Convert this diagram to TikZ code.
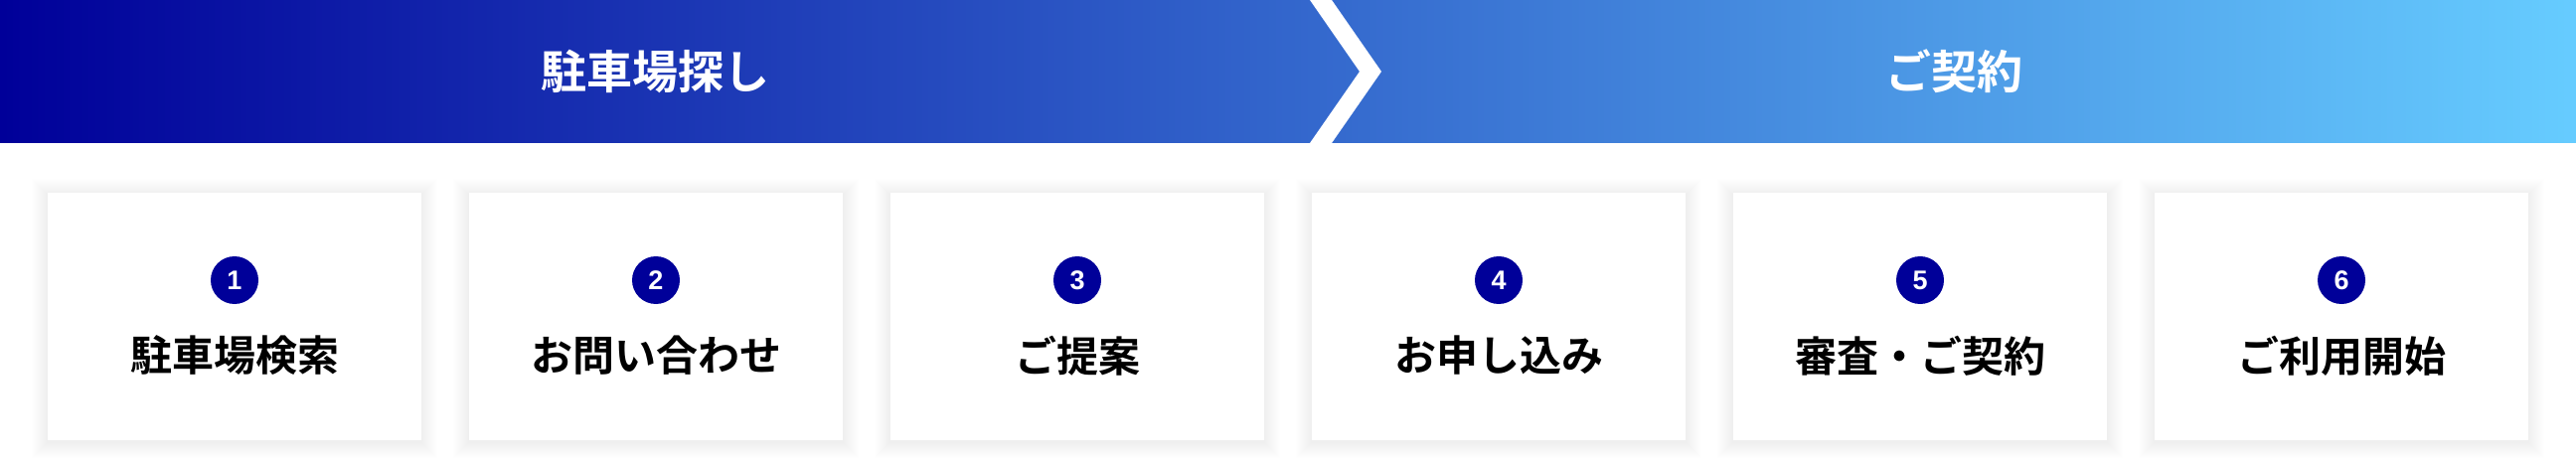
\documentclass[tikz,border=0pt]{standalone}
\usepackage{fontspec}
\newfontfamily\jpbold{Noto Sans CJK JP Bold}
\newfontfamily\numfont{Liberation Sans}
\usepackage{tikz}
\usetikzlibrary{positioning,backgrounds}

\definecolor{navy}{RGB}{0,0,153}
\definecolor{sky}{RGB}{102,204,255}

\begin{document}
\begin{tikzpicture}[x=1pt,y=1pt,node distance=48pt,
    card/.style={fill=white,minimum width=376pt,minimum height=249pt,inner sep=0pt,outer sep=0pt},
    cardshadow/.style={fill=black,opacity=0.005},
    stepnum/.style={circle,fill=navy,minimum size=48pt,inner sep=0pt,text=white,
        font=\numfont\bfseries\fontsize{27pt}{27pt}\selectfont},
    steplabel/.style={font=\jpbold\fontsize{42pt}{42pt}\selectfont},
    phase/.style={text=white,font=\jpbold\fontsize{46pt}{46pt}\selectfont}]
    \useasboundingbox (0,0) rectangle (2592,464);

    % banner
    \shade[left color=navy,right color=sky] (0,320) rectangle (2592,464);
    \fill[white] (1318,464) -- (1340,464) -- (1390,392) -- (1340,320) -- (1318,320) -- (1368,392) -- cycle;
    \node[phase] (p1) at (659,392) {駐車場探し};
    \node[phase] (p2) at (1966,392) {ご契約};

    % cards
    \node[card] (c1) at (236,145.5) {};
    \node[card,right=of c1] (c2) {};
    \node[card,right=of c2] (c3) {};
    \node[card,right=of c3] (c4) {};
    \node[card,right=of c4] (c5) {};
    \node[card,right=of c5] (c6) {};

    \node[stepnum] (n1) at ([yshift=36.5pt]c1.center) {1};
    \node[stepnum] (n2) at ([yshift=36.5pt]c2.center) {2};
    \node[stepnum] (n3) at ([yshift=36.5pt]c3.center) {3};
    \node[stepnum] (n4) at ([yshift=36.5pt]c4.center) {4};
    \node[stepnum] (n5) at ([yshift=36.5pt]c5.center) {5};
    \node[stepnum] (n6) at ([yshift=36.5pt]c6.center) {6};

    \node[steplabel] (t1) at ([yshift=-39.5pt]c1.center) {駐車場検索};
    \node[steplabel] (t2) at ([yshift=-39.5pt]c2.center) {お問い合わせ};
    \node[steplabel] (t3) at ([yshift=-39.5pt]c3.center) {ご提案};
    \node[steplabel] (t4) at ([yshift=-39.5pt]c4.center) {お申し込み};
    \node[steplabel] (t5) at ([yshift=-39.5pt]c5.center) {審査・ご契約};
    \node[steplabel] (t6) at ([yshift=-39.5pt]c6.center) {ご利用開始};

    \begin{pgfonlayer}{background}
        \fill[white] (0,0) rectangle (2592,464);
        % soft shadow round each card
        \foreach \i in {1,...,6}
            \foreach \r in {1,...,16}
                \fill[cardshadow] ([shift={(-\r,-\r-2)}]c\i.south west) rectangle ([shift={(\r,\r-2)}]c\i.north east);
    \end{pgfonlayer}
\end{tikzpicture}
\end{document}
